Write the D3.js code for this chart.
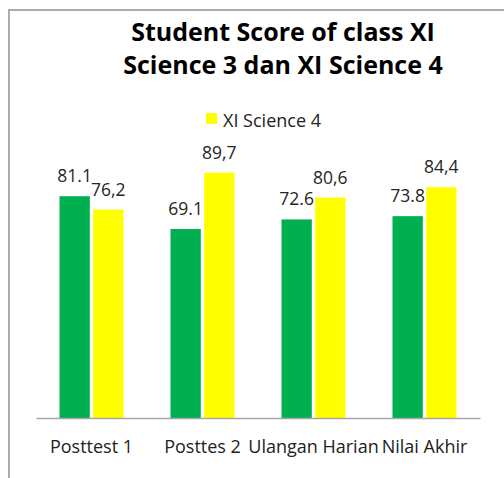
<!DOCTYPE html>
<html>
<head>
<meta charset="utf-8">
<script src="https://cdn.jsdelivr.net/npm/d3@7"></script>
<style>
  html, body { margin: 0; padding: 0; background: #fff; }
  svg { display: block; }
</style>
</head>
<body>
<div id="chart"></div>
<script>
// Chart data
const categories = ['Posttest 1', 'Posttes 2', 'Ulangan Harian', 'Nilai Akhir'];
const science3 = [81.1, 69.1, 72.6, 73.8];
const science4 = [76.2, 89.7, 80.6, 84.4];
const science3Labels = ['81.1', '69.1', '72.6', '73.8'];
const science4Labels = ['76,2', '89,7', '80,6', '84,4'];
const titleLines = ['Student Score of class XI', 'Science 3 dan XI Science 4'];

document.addEventListener('DOMContentLoaded', () => {
  const W = 504, H = 478;
  const font = '"Open Sans", Lato, sans-serif';

  const svg = d3.select('#chart')
    .append('svg')
    .attr('width', W)
    .attr('height', H);

  // frame (only left and top edges visible)
  svg.append('path')
    .attr('d', `M9,${H} V10 H${W}`)
    .attr('fill', 'none')
    .attr('stroke', '#ababab')
    .attr('stroke-width', 2);

  // Title, two lines
  svg.selectAll('.title')
    .data(titleLines)
    .join('text')
    .attr('class', 'title')
    .attr('x', 283)
    .attr('y', (d, i) => 41 + i * 33)
    .attr('text-anchor', 'middle')
    .attr('font-family', font)
    .attr('font-weight', 'bold')
    .attr('font-size', 25)
    .attr('fill', '#000')
    .text(d => d);

  // Legend
  const legend = svg.append('g').attr('transform', 'translate(206,113)');
  legend.append('rect')
    .attr('width', 11).attr('height', 11)
    .attr('fill', '#ffff00');
  legend.append('text')
    .attr('x', 17).attr('y', 14)
    .attr('font-family', font)
    .attr('font-size', 18)
    .attr('fill', '#222')
    .text('XI Science 4');

  // Scales
  const x0 = d3.scaleBand()
    .domain(categories)
    .range([36, 480]);

  const x1 = d3.scaleBand()
    .domain(['s3', 's4'])
    .range([0, 64])
    .paddingInner(0.1);

  const y = d3.scaleLinear()
    .domain([0, 100])
    .range([418, 144.5]);

  const rows = categories.map((c, i) => ({
    cat: c,
    bars: [
      { key: 's3', value: science3[i], label: science3Labels[i], color: '#00b050' },
      { key: 's4', value: science4[i], label: science4Labels[i], color: '#ffff00' }
    ]
  }));

  const groups = svg.selectAll('.group')
    .data(rows)
    .join('g')
    .attr('class', 'group')
    .attr('transform', d => `translate(${x0(d.cat) + (x0.bandwidth() - 64) / 2},0)`);

  groups.selectAll('rect')
    .data(d => d.bars)
    .join('rect')
    .attr('x', d => x1(d.key))
    .attr('width', x1.bandwidth())
    .attr('y', d => y(d.value))
    .attr('height', d => y(0) - y(d.value))
    .attr('fill', d => d.color);

  groups.selectAll('text')
    .data(d => d.bars)
    .join('text')
    .attr('x', d => x1(d.key) + x1.bandwidth() / 2)
    .attr('y', d => y(d.value) - 14)
    .attr('text-anchor', 'middle')
    .attr('font-family', font)
    .attr('font-size', 17.5)
    .attr('fill', '#262626')
    .text(d => d.label);

  // X axis
  const xAxis = svg.append('g')
    .attr('transform', `translate(0,${y(0)})`)
    .call(d3.axisBottom(x0).tickSize(0).tickPadding(22));

  xAxis.select('.domain')
    .attr('stroke', '#a6a6a6')
    .attr('stroke-width', 1.5);

  xAxis.selectAll('text')
    .attr('font-family', font)
    .attr('font-size', 18)
    .attr('fill', '#222');
});
</script>
</body>
</html>
